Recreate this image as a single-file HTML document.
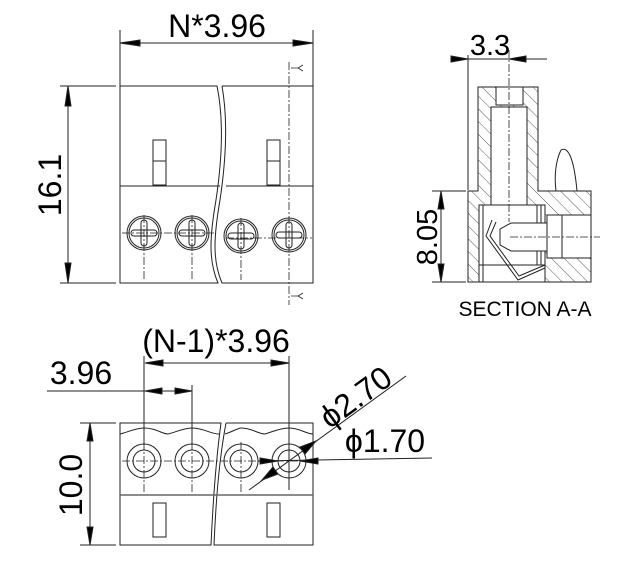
<!DOCTYPE html>
<html><head><meta charset="utf-8"><style>
html,body{margin:0;padding:0;background:#fff;}
svg{display:block;}
text{font-family:"Liberation Sans",sans-serif;fill:#000;}
</style></head><body>
<svg width="618" height="576" viewBox="0 0 618 576" xmlns="http://www.w3.org/2000/svg">
<defs>
<pattern id="h" patternUnits="userSpaceOnUse" width="9" height="9" patternTransform="rotate(-45)">
<rect width="9" height="9" fill="#fff"/><line x1="0" y1="0" x2="0" y2="9" stroke="#333" stroke-width="0.8"/>
</pattern>
</defs>
<g stroke="#222" stroke-width="1" fill="none">
<!-- TOP VIEW -->
<line x1="120" y1="30" x2="120" y2="86"/><line x1="313" y1="30" x2="313" y2="86"/>
<line x1="120" y1="43" x2="313" y2="43"/>
<polygon points="120,43 140,40 140,46" fill="#000"/><polygon points="313,43 293,40 293,46" fill="#000"/>
<line x1="60" y1="86" x2="116" y2="86"/><line x1="60" y1="283" x2="116" y2="283"/>
<line x1="68" y1="86" x2="68" y2="283"/>
<polygon points="68,86 65,106 71,106" fill="#000"/><polygon points="68,283 65,263 71,263" fill="#000"/>
<path d="M120,86 H217 C224,120 222,160 216,200 C210,235 208,260 218,283 H120 Z"/>
<path d="M222,86 H313 V283 H222 C212,260 214,235 220,200 C226,160 228,120 222,86"/>
<line x1="120" y1="186" x2="220" y2="186"/><line x1="226" y1="186" x2="313" y2="186"/>
<rect x="153" y="140" width="13" height="45"/><line x1="153" y1="161" x2="166" y2="161"/>
<rect x="267" y="140" width="13" height="45"/><line x1="267" y1="161" x2="280" y2="161"/>
<g>
<circle cx="144" cy="233" r="17"/><circle cx="144" cy="233" r="15"/>
<rect x="141" y="220" width="6" height="26" rx="3"/><rect x="131" y="230" width="26" height="6" rx="3"/>
<circle cx="192" cy="233" r="17"/><circle cx="192" cy="233" r="15"/>
<rect x="189" y="220" width="6" height="26" rx="3"/><rect x="179" y="230" width="26" height="6" rx="3"/>
<circle cx="241" cy="236" r="17"/><circle cx="241" cy="236" r="15"/>
<rect x="238" y="223" width="6" height="26" rx="3"/><rect x="228" y="233" width="26" height="6" rx="3"/>
<circle cx="289" cy="235" r="17"/><circle cx="289" cy="235" r="15"/>
<rect x="286" y="222" width="6" height="26" rx="3"/><rect x="276" y="232" width="26" height="6" rx="3"/>
</g>
<g stroke-dasharray="8,2,2,2" stroke-width="0.8">
<line x1="122" y1="233" x2="215" y2="233"/><line x1="226" y1="238" x2="312" y2="238"/>
<line x1="144" y1="215" x2="144" y2="280"/><line x1="192" y1="215" x2="192" y2="280"/>
<line x1="241" y1="218" x2="241" y2="280"/>
<line x1="289" y1="62" x2="289" y2="305"/>
</g>
<path d="M291,68 H298 M298,68 L303,65 M298,68 L303,71" stroke-width="0.8"/>
<path d="M291,296 H298 M298,296 L303,293 M298,296 L303,299" stroke-width="0.8"/>

<!-- SECTION VIEW -->
<path d="M478,87 H538 V191 H591 V282 H468 V191 H478 Z" fill="url(#h)"/>
<rect x="496" y="87" width="27" height="18" fill="#fff"/>
<rect x="491" y="107" width="36" height="98" fill="#fff"/>
<rect x="479" y="205" width="66" height="77" fill="#fff"/>
<line x1="479" y1="265" x2="545" y2="265"/>
<line x1="483" y1="205" x2="483" y2="282"/>
<line x1="537" y1="205" x2="537" y2="265"/><line x1="541" y1="205" x2="541" y2="265"/>
<rect x="547" y="215" width="44" height="43" fill="#fff"/><line x1="562" y1="215" x2="562" y2="258"/>
<path d="M511,223 H547 V251 H511 L500,245 V229 Z" fill="#fff"/>
<path d="M492,220 L486,236 L518,280 L545,268 M496,222 L490,236 L519,276 L545,265"/>
<path d="M556,191 C554,175 556,160 561,150 C568,146 574,158 577,191"/>
<line x1="468" y1="55" x2="468" y2="190"/>
<line x1="452" y1="59" x2="547" y2="59"/>
<polygon points="468,59 451,56 451,62" fill="#000"/><polygon points="509,59 526,56 526,62" fill="#000"/>
<line x1="509" y1="50" x2="509" y2="222" stroke-dasharray="8,2,2,2" stroke-width="0.8"/>
<line x1="510" y1="237" x2="600" y2="237" stroke-dasharray="8,2,2,2" stroke-width="0.8"/>
<line x1="432" y1="191" x2="466" y2="191"/><line x1="432" y1="282" x2="466" y2="282"/>
<line x1="441" y1="191" x2="441" y2="282"/>
<polygon points="441,191 438,209 444,209" fill="#000"/><polygon points="441,282 438,264 444,264" fill="#000"/>

<!-- BOTTOM VIEW -->
<path d="M120,423 H221 C216,460 213,500 211,545 H120 Z"/>
<path d="M226,423 H313 V545 H214 C216,500 219,460 226,423"/>
<path d="M120,434 C128,432 136,428 144,428 C156,428 162,434 168,434 C176,432 184,428 192,428 C204,428 210,434 219,434"/>
<path d="M225,434 C232,432 238,428 241,428 C252,428 258,434 265,434 C272,432 280,428 289,428 C300,428 306,434 313,434"/>
<line x1="120" y1="495" x2="313" y2="495" stroke="#666" stroke-width="1.5"/>
<rect x="153" y="503" width="13" height="34"/><rect x="267" y="503" width="13" height="34"/>
<circle cx="144" cy="461" r="17"/><circle cx="144" cy="461" r="11"/>
<circle cx="192" cy="461" r="17"/><circle cx="192" cy="461" r="11"/>
<circle cx="241" cy="461" r="17"/><circle cx="241" cy="461" r="11"/>
<circle cx="289" cy="461" r="17"/><circle cx="289" cy="461" r="11"/>
<g stroke-dasharray="8,2,2,2" stroke-width="0.8">
<line x1="122" y1="461" x2="312" y2="461"/>
<line x1="144" y1="442" x2="144" y2="492"/><line x1="192" y1="442" x2="192" y2="492"/><line x1="241" y1="442" x2="241" y2="492"/>
</g>
<line x1="144" y1="356" x2="144" y2="445"/><line x1="192" y1="385" x2="192" y2="445"/><line x1="289" y1="356" x2="289" y2="490"/>
<line x1="145" y1="363" x2="289" y2="363"/>
<polygon points="145,363 163,360 163,366" fill="#000"/><polygon points="289,363 271,360 271,366" fill="#000"/>
<line x1="47" y1="391" x2="192" y2="391"/>
<polygon points="145,391 162,388 162,394" fill="#000"/><polygon points="192,391 175,388 175,394" fill="#000"/>
<line x1="80" y1="423" x2="116" y2="423"/><line x1="80" y1="545" x2="116" y2="545"/>
<line x1="90" y1="423" x2="90" y2="545"/>
<polygon points="90,423 87,441 93,441" fill="#000"/><polygon points="90,545 87,527 93,527" fill="#000"/>
<line x1="249" y1="490" x2="406" y2="376"/>
<polygon points="316,441 300,447 305,454" fill="#000"/><polygon points="262,480 278,474 273,467" fill="#000"/>
<line x1="258" y1="461" x2="432" y2="458"/>
<polygon points="278,461 260,458 260,464" fill="#000"/><polygon points="300,461 318,458 318,464" fill="#000"/>
</g>
<text x="217" y="37" font-size="32" text-anchor="middle">N*3.96</text>
<text transform="translate(61,185) rotate(-90)" font-size="32" text-anchor="middle">16.1</text>
<text x="490" y="55" font-size="29" text-anchor="middle">3.3</text>
<text transform="translate(437,237) rotate(-90)" font-size="29" text-anchor="middle">8.05</text>
<text x="525" y="316" font-size="21" text-anchor="middle">SECTION A-A</text>
<text x="216" y="352" font-size="32" text-anchor="middle">(N-1)*3.96</text>
<text x="81" y="384" font-size="32" text-anchor="middle">3.96</text>
<text transform="translate(82,485) rotate(-90)" font-size="32" text-anchor="middle">10.0</text>
<text transform="translate(362,406) rotate(-36)" font-size="32" text-anchor="middle">ϕ2.70</text>
<text x="385" y="452" font-size="32" text-anchor="middle">ϕ1.70</text>
</svg>
</body></html>
